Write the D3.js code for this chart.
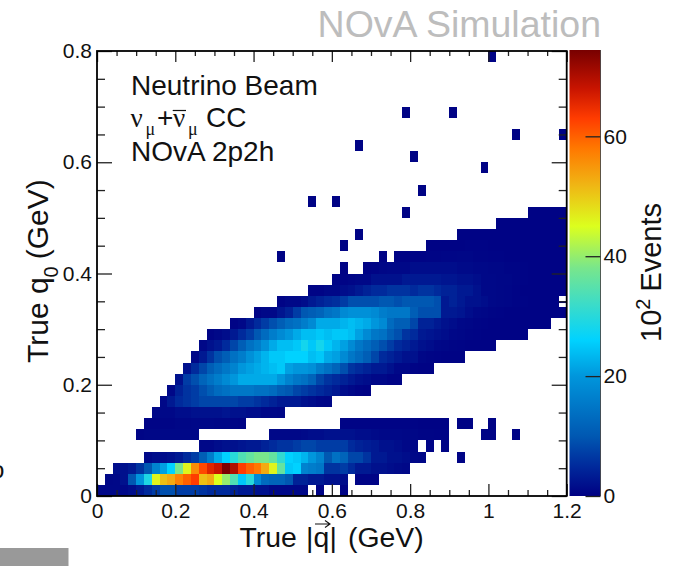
<!DOCTYPE html>
<html>
<head>
<meta charset="utf-8">
<script src="https://cdn.jsdelivr.net/npm/d3@7"></script>
<style>
  body { margin: 0; background: #fff; }
  svg { display: block; }
  text { font-family: "Liberation Sans", Arial, sans-serif; }
</style>
</head>
<body>
<svg id="chart" width="677" height="566"></svg>
<script>
// bin width of the histogram, GeV
const qBin = 0.02
const q0Bin = 0.02

const xMajor = [0, 0.2, 0.4, 0.6, 0.8, 1, 1.2]
const xMinor = [0.05, 0.1, 0.15, 0.25, 0.3, 0.35, 0.45, 0.5, 0.55, 0.65, 0.7, 0.75, 0.85, 0.9, 0.95, 1.05, 1.1, 1.15]
const yMajor = [0, 0.2, 0.4, 0.6, 0.8]
const yMinor = [0.05, 0.1, 0.15, 0.25, 0.3, 0.35, 0.45, 0.5, 0.55, 0.65, 0.7, 0.75]
const barTicks = [0, 20, 40, 60]
const barMax = 74.4

const paletteValues = [0, 5, 10, 20, 26, 32, 38, 45, 52, 58, 63, 68, 74.4]
const paletteColors = ['#000083', '#002a9c', '#0058b2', '#0096dc', '#00d2ff', '#3cdcc8', '#78e68c', '#dcff1e', '#f0b414', '#ff7800', '#ff3c00', '#c81400', '#780000']

// first q bin of every q0 row, then the counts (10^2 events), 0 = empty bin
const rowFirst = [0, 1, 2, 6, 13, 5, 6, 7, 8, 9, 10, 11, 12, 13, 14, 17, 20, 23, 27, 30, 34, 38, 42, 46, 51, 55]
const row00 = [1, 1, 1, 1, 1.5, 3, 5, 7, 9, 9, 7, 7, 7, 6, 5, 5, 5, 4, 3, 3, 2, 2, 1, 1, 1, 1, 1, 0, 0.5, 0, 0, 0.5]
const row01 = [0.8, 1, 2, 10, 20, 29, 46, 51, 53, 57, 60, 63, 51, 53, 45, 40, 34, 25, 30, 18, 13, 12, 12, 10, 4, 4, 3, 3, 2, 2, 1.5, 0, 0.5, 0.5, 0.5]
const row02 = [1.5, 2, 3, 6, 10, 17, 21, 26, 38, 46, 56, 62, 66, 68, 74, 70, 63, 60, 58, 53, 46, 36, 25, 26, 17, 16, 15, 6, 6, 7, 5, 3, 3, 2, 2, 1.5, 1.2, 1]
const row03 = [1, 1.5, 1.5, 2, 3, 5, 7, 11, 16, 22, 26, 30, 34, 36, 38, 38, 36, 31, 26, 25, 23, 20, 17, 10, 14, 12, 8, 8, 6, 3, 3, 2, 2, 1.5, 1, 0.8, 0, 0, 0, 0, 0.5]
const row04 = [1, 1, 1.5, 2, 2, 2.5, 3, 3, 4, 5, 6, 6, 7, 8, 8, 7, 7, 7, 7, 5, 4, 3.5, 3, 2, 2, 1.5, 1, 0.8, 0, 0.5, 0, 0.5]
const row05 = [0.6, 0.8, 0.8, 1, 1, 1, 1, 1, 0, 0, 0, 0, 0, 0, 0, 0, 0, 1, 1, 1, 1, 1.2, 1.5, 1.5, 2, 2, 2, 2, 1.5, 1.5, 1.2, 1, 1, 1, 0.8, 0.8, 0.6, 0.6, 0.5, 0.5, 0, 0, 0, 0, 0.5, 0.5, 0, 0, 0.5]
const row06 = [0.5, 0.5, 0.6, 0.6, 0.8, 0.8, 1, 1, 1, 0.8, 0.8, 0.6, 0.5, 0, 0, 0, 0, 0, 0, 0, 0, 0, 0, 0, 0, 0.5, 0.5, 0.5, 0.5, 0.5, 0.5, 0.5, 0.5, 0.5, 0.5, 0.4, 0.4, 0.4, 0.4, 0, 0.4, 0.4, 0, 0, 0.4]
const row07 = [1, 1, 1, 1.5, 1.5, 2, 2, 2, 2, 2.5, 2, 2, 1.5, 1.5, 1, 1, 0.8]
const row08 = [1, 3, 5, 6, 7, 8, 8, 8, 8, 8, 7, 7, 6, 5, 4, 3, 3, 3, 2, 1.5, 1, 0.8]
const row09 = [1, 4, 6, 7, 9, 11, 13, 14, 15, 15, 15, 14, 14, 13, 11, 10, 8, 7, 6, 5, 4, 3, 1.5, 1, 0.5, 0.3]
const row10 = [2, 7, 9, 12, 14, 16, 18, 20, 22, 22, 22, 22, 22, 20, 17, 15, 14, 12, 8, 6, 5, 4, 3, 2, 1.5, 1, 1, 0.5, 0.5]
const row11 = [2, 5, 8, 11, 13, 15, 17, 20, 21, 22, 23, 24, 25, 21, 20, 20, 19, 16, 14, 12, 9, 6, 5, 4, 3, 3, 2, 1, 1, 0.5, 0.4, 0.3]
const row12 = [1, 3, 6, 9, 11, 14, 16, 19, 21, 23, 25, 25, 26, 26, 26, 24, 25, 22, 21, 18, 15, 13, 11, 8, 5, 4, 3, 2, 2, 0.8, 0.6, 0.5, 0.4, 0.3, 0.3]
const row13 = [1, 2, 3, 5, 8, 11, 14, 16, 19, 22, 24, 24, 25, 28, 25, 28, 25, 23, 21, 18, 15, 13, 11, 9, 7, 5, 4, 3, 2, 1.5, 1, 0.8, 0.6, 0.5, 0.4, 0.3, 0.3, 0.3]
const row14 = [0.5, 1, 1.5, 3, 5, 7, 10, 13, 16, 18, 20, 22, 24, 24, 25, 24, 25, 25, 24, 21, 18, 15, 14, 11, 9, 6, 5, 3, 2.5, 2, 1.5, 1, 0.8, 0.6, 0.5, 0.4, 0.4, 0.3, 0.3, 0.3, 0.3]
const row15 = [0.5, 1, 3, 5, 7, 9, 11, 13, 14, 16, 18, 22, 22, 22, 23, 24, 23, 22, 20, 18, 13, 11, 11, 8, 4, 4, 3, 2, 1.5, 1, 0.8, 0.6, 0.5, 0.4, 0.4, 0.3, 0.3, 0.3, 0.3, 0.3, 0.3]
const row16 = [0.5, 1, 1, 2.5, 4, 7, 10, 11, 12, 14, 15, 18, 19, 19, 19, 18, 16, 15, 15, 15, 11, 9, 9, 9, 3, 3, 2.5, 1.5, 1, 0.8, 0.6, 0.5, 0.4, 0.4, 0.3, 0.3, 0.3, 0.3, 0.3, 0.3]
const row17 = [0.5, 1, 1, 1.5, 3, 4, 5, 5.5, 7, 9, 9, 9, 9, 10, 10, 9, 10, 10, 10, 10, 9, 3, 4, 3, 2, 2, 1.5, 1, 0.8, 0.7, 0.5, 0.5, 0.4, 0.4, 0.3, 0.3, 0]
const row18 = [0.5, 0.5, 1, 1, 1.5, 2, 3, 4, 5, 5, 6, 6, 6, 5, 6, 6, 5, 4, 4, 3, 3, 2, 1, 1, 0.8, 0.7, 0.5, 0.4, 0.4, 0.3, 0.3, 0.3, 0.3]
const row19 = [0.5, 0.5, 0.7, 1, 1, 2, 2, 2, 2, 3, 3, 3, 3, 3, 2.5, 2.5, 2, 2, 1.5, 1, 1, 0.8, 0.8, 0.6, 0.5, 0.4, 0.4, 0.3, 0.3, 0.3]
const row20 = [0.4, 0.5, 0.8, 1, 1, 1, 1.5, 1.5, 1.5, 1.5, 1.5, 1.5, 1.2, 1.2, 1, 1, 0.8, 0.8, 0.6, 0.6, 0.5, 0.4, 0.3, 0.3, 0.3, 0.3]
const row21 = [0.3, 0.3, 0.5, 0.5, 0.6, 0.6, 0.7, 0.7, 0.8, 0.8, 0.6, 0.6, 0.5, 0.5, 0.4, 0.4, 0.3, 0.3, 0.3, 0.3, 0.3, 0.3]
const row22 = [0.3, 0.3, 0.4, 0.4, 0.4, 0.5, 0.5, 0.5, 0.4, 0.4, 0.4, 0.3, 0.3, 0.3, 0.3, 0.3, 0.3, 0.3]
const row23 = [0.3, 0.3, 0.3, 0.3, 0.4, 0.4, 0.3, 0.3, 0.3, 0.3, 0.3, 0.3, 0.3, 0.3]
const row24 = [0.3, 0.3, 0.3, 0.3, 0.3, 0.3, 0.3, 0.3, 0.3]
const row25 = [0.3, 0.3, 0.3, 0.3, 0.3]
const rows = [row00, row01, row02, row03, row04, row05, row06, row07, row08, row09, row10, row11, row12,
  row13, row14, row15, row16, row17, row18, row19, row20, row21, row22, row23, row24, row25]

// lone bins above the band: low edges in GeV
const strayQ = [1.00, 0.78, 0.90, 1.06, 1.18, 0.66, 0.80, 0.98, 0.82, 0.54, 0.60, 0.78, 0.66, 0.62, 0.72, 0.62, 0.46]
const strayQ0 = [0.78, 0.68, 0.68, 0.64, 0.64, 0.62, 0.60, 0.58, 0.54, 0.52, 0.52, 0.50, 0.46, 0.44, 0.42, 0.40, 0.42]
const strayCount = 0.3

const margin = { top: 51, right: 110.3, bottom: 70, left: 97 }
const width = 677
const height = 566

const svg = d3.select('#chart')

const xScale = d3.scaleLinear().domain([0, 1.2])
  .range([margin.left, width - margin.right])
const yScale = d3.scaleLinear().domain([0, 0.8])
  .range([height - margin.bottom, margin.top])
const barScale = d3.scaleLinear().domain([0, barMax])
  .range([height - margin.bottom, margin.top - 1])
const colorScale = d3.scaleLinear().domain(paletteValues).range(paletteColors).clamp(true)

// flatten rows + strays to a list of bins
const cells = []
rows.forEach((row, j) => {
  row.forEach((count, i) => {
    if (count > 0) cells.push({ q: (rowFirst[j] + i) * qBin, q0: j * q0Bin, count })
  })
})
strayQ.forEach((q, i) => cells.push({ q, q0: strayQ0[i], count: strayCount }))

svg.append('g').selectAll('rect')
  .data(cells)
  .enter().append('rect')
  .attr('x', d => xScale(d.q))
  .attr('y', d => yScale(d.q0 + q0Bin))
  .attr('width', xScale(qBin) - xScale(0))
  .attr('height', yScale(0) - yScale(q0Bin))
  .attr('fill', d => colorScale(d.count))
  .attr('shape-rendering', 'crispEdges')

// the little notch on the right edge has a thin stripe left in it
svg.append('rect')
  .attr('x', xScale(1.18))
  .attr('y', yScale(0.3505))
  .attr('width', xScale(qBin) - xScale(0))
  .attr('height', 2)
  .attr('fill', colorScale(strayCount))

// colour bar
const grad = svg.append('defs').append('linearGradient')
  .attr('id', 'barGrad')
  .attr('x1', 0).attr('y1', 1).attr('x2', 0).attr('y2', 0)
paletteValues.forEach((v, i) => {
  grad.append('stop').attr('offset', v / barMax).attr('stop-color', paletteColors[i])
})
svg.append('rect')
  .attr('x', 569.5)
  .attr('y', barScale(barMax))
  .attr('width', 31)
  .attr('height', barScale(0) - barScale(barMax))
  .attr('fill', 'url(#barGrad)')

const styleAxis = (g, size) => {
  g.select('.domain').remove()
  g.selectAll('line').attr('stroke', '#222').attr('stroke-width', 1.3)
  g.selectAll('text').attr('font-family', '"Liberation Sans", Arial, sans-serif')
    .attr('font-size', size).attr('fill', '#111')
}

const xAxis = (gen, major, y) => {
  svg.append('g')
    .attr('transform', `translate(0,${y})`)
    .call(gen(xScale).tickValues(major ? xMajor : xMinor).tickSize(major ? -12 : -6).tickSizeOuter(0)
      .tickPadding(7).tickFormat(major && gen === d3.axisBottom ? d => d : ''))
    .call(g => styleAxis(g, 21))
}
xAxis(d3.axisBottom, true, yScale(0))
xAxis(d3.axisBottom, false, yScale(0))
const topAxis = (major) => {
  svg.append('g')
    .attr('transform', `translate(0,${yScale(0.8)})`)
    .call(d3.axisTop(xScale).tickValues(major ? xMajor : xMinor).tickSize(major ? -11 : -5).tickSizeOuter(0).tickFormat(''))
    .call(g => styleAxis(g, 21))
}
topAxis(true)
topAxis(false)

const yAxis = (gen, major, x) => {
  svg.append('g')
    .attr('transform', `translate(${x},0)`)
    .call(gen(yScale).tickValues(major ? yMajor : yMinor).tickSize(major ? -15 : -8).tickSizeOuter(0)
      .tickPadding(5).tickFormat(major && gen === d3.axisLeft ? d => d : ''))
    .call(g => styleAxis(g, 21))
}
yAxis(d3.axisLeft, true, xScale(0))
yAxis(d3.axisLeft, false, xScale(0))
yAxis(d3.axisRight, true, xScale(1.2))
yAxis(d3.axisRight, false, xScale(1.2))

svg.append('rect')
  .attr('x', xScale(0))
  .attr('y', yScale(0.8))
  .attr('width', xScale(1.2) - xScale(0))
  .attr('height', yScale(0) - yScale(0.8))
  .attr('fill', 'none')
  .attr('stroke', '#000')
  .attr('stroke-width', 1.8)

svg.append('g')
  .attr('transform', 'translate(600.5,0)')
  .call(d3.axisRight(barScale).tickValues(barTicks).tickSize(-15).tickSizeOuter(0).tickPadding(3))
  .call(g => styleAxis(g, 21))
svg.append('line')
  .attr('x1', 600.5).attr('x2', 600.5)
  .attr('y1', barScale(barMax)).attr('y2', barScale(0))
  .attr('stroke', '#333').attr('stroke-width', 0.8)

// titles
svg.append('text')
  .attr('x', 601).attr('y', 37)
  .attr('text-anchor', 'end')
  .attr('font-size', 37.5)
  .attr('fill', '#bdbdbd')
  .text('NOvA Simulation')

const label = svg.append('g').attr('font-size', 28).attr('fill', '#111')
label.append('text').attr('x', 131).attr('y', 94.5).text('Neutrino Beam')
label.append('text').attr('x', 131).attr('y', 161).text('NOvA 2p2h')

const serif = '"Liberation Serif", serif'
const beam = label.append('text').attr('y', 127)
beam.append('tspan').attr('x', 130.5).attr('font-family', serif).attr('font-size', 27).text('\u03bd')
beam.append('tspan').attr('x', 145.5).attr('font-family', serif).attr('font-size', 18).attr('dy', 8).text('\u03bc')
beam.append('tspan').attr('x', 157).attr('dy', -8).text('+')
beam.append('tspan').attr('x', 173).attr('font-family', serif).attr('font-size', 27).text('\u03bd')
beam.append('tspan').attr('x', 188).attr('font-family', serif).attr('font-size', 18).attr('dy', 8).text('\u03bc')
beam.append('tspan').attr('x', 206).attr('dy', -8).text('CC')
label.append('line')
  .attr('x1', 172.7).attr('x2', 186).attr('y1', 110.5).attr('y2', 110.5)
  .attr('stroke', '#111').attr('stroke-width', 1.2)

const xTitle = svg.append('text')
  .attr('y', 546.5)
  .attr('font-size', 28.4).attr('fill', '#111')
xTitle.append('tspan').attr('x', 239.5).text('True')
xTitle.append('tspan').attr('x', 306).text('|')
xTitle.append('tspan').attr('x', 313.5).text('q')
xTitle.append('tspan').attr('x', 329.5).text('|')
xTitle.append('tspan').attr('x', 348).text('(GeV)')
svg.append('path')
  .attr('d', 'M315,524H330M325,520.5L330,524L325,527.5')
  .attr('fill', 'none').attr('stroke', '#111').attr('stroke-width', 1.1)

const yTitle = svg.append('text')
  .attr('transform', 'translate(48,363) rotate(-90)')
  .attr('font-size', 30).attr('fill', '#111')
yTitle.append('tspan').text('True q')
yTitle.append('tspan').attr('font-size', 20).attr('dy', 10).text('0')
yTitle.append('tspan').attr('dy', -10).attr('dx', 7).text('(GeV)')

const barTitle = svg.append('text')
  .attr('transform', 'translate(661,342) rotate(-90)')
  .attr('font-size', 29).attr('fill', '#111')
barTitle.append('tspan').text('10')
barTitle.append('tspan').attr('font-size', 20).attr('dy', -11).text('2')
barTitle.append('tspan').attr('dy', 11).attr('dx', 7).text('Events')

// crop leftovers from the page the figure was cut out of
svg.append('text').attr('x', -9).attr('y', 478).attr('font-size', 24).attr('fill', '#111').text('o')
svg.append('rect').attr('x', 0).attr('y', 548).attr('width', 68.5).attr('height', 18).attr('fill', '#999')
</script>
</body>
</html>
